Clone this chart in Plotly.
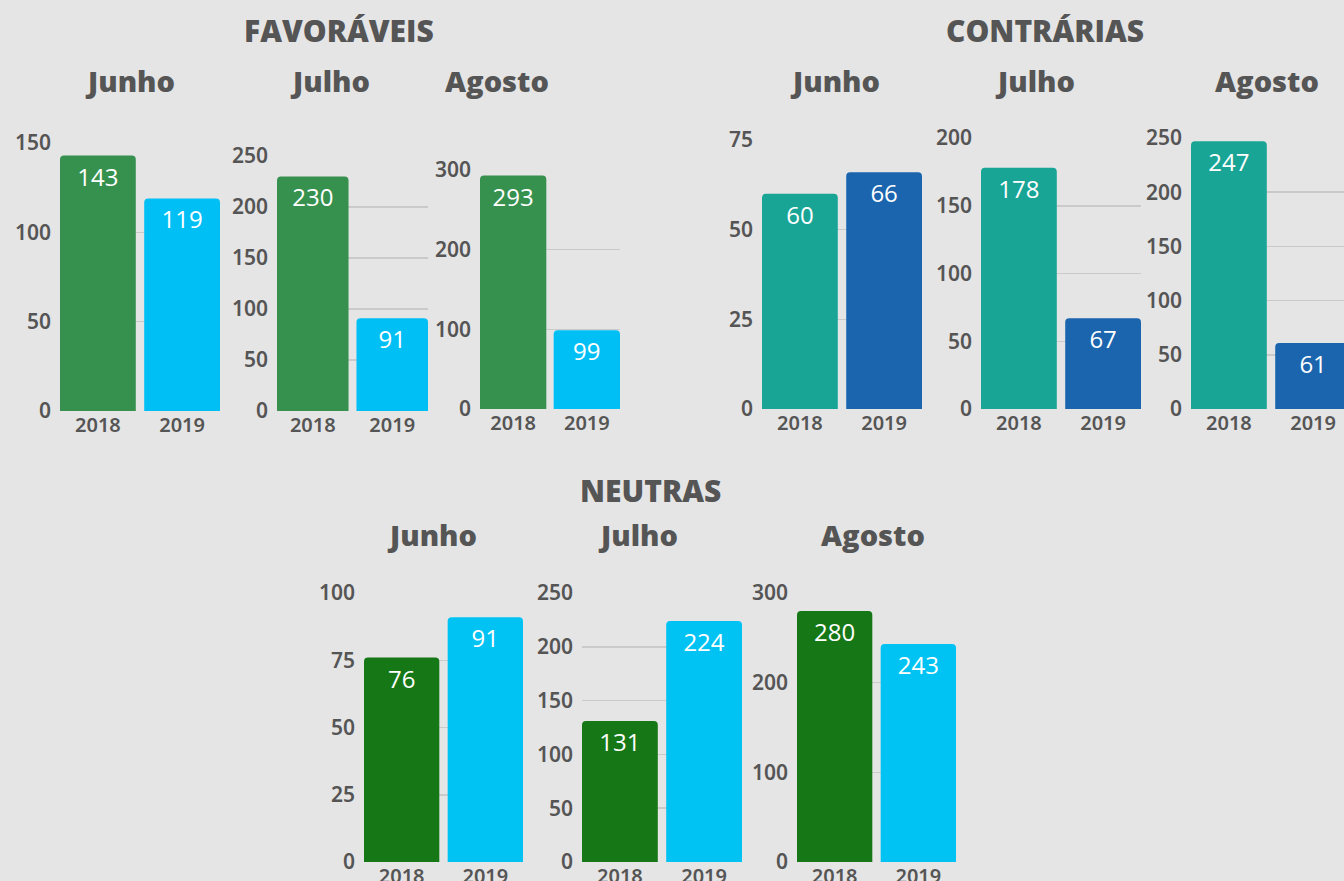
import plotly.graph_objects as go

groups = ["FAVORÁVEIS", "CONTRÁRIAS", "NEUTRAS"]
months = ["Junho", "Julho", "Agosto"]
years = ["2018", "2019"]

fav_2018 = [143, 230, 293]
fav_2019 = [119, 91, 99]
con_2018 = [60, 178, 247]
con_2019 = [66, 67, 61]
neu_2018 = [76, 131, 280]
neu_2019 = [91, 224, 243]

y_max = {"FAVORÁVEIS": [150, 250, 300], "CONTRÁRIAS": [75, 200, 250], "NEUTRAS": [100, 250, 300]}
y_step = {"FAVORÁVEIS": [50, 50, 100], "CONTRÁRIAS": [25, 50, 50], "NEUTRAS": [25, 50, 100]}

data = {
    "FAVORÁVEIS": (fav_2018, fav_2019),
    "CONTRÁRIAS": (con_2018, con_2019),
    "NEUTRAS": (neu_2018, neu_2019),
}
colors = {
    "FAVORÁVEIS": ("#36914F", "#00BFF5"),
    "CONTRÁRIAS": ("#19A596", "#1A65AE"),
    "NEUTRAS": ("#167716", "#00C3F4"),
}

W, H = 1344, 881
# panel boxes in pixels: x0, x1, ytop, ybottom
boxes = {
    "FAVORÁVEIS": [(60, 220, 143, 411), (277, 428, 156, 411), (480, 620, 170, 409)],
    "CONTRÁRIAS": [(762, 922, 140, 409), (981, 1141, 138, 409), (1191, 1351, 138, 409)],
    "NEUTRAS": [(364, 523, 593, 862), (582, 742, 593, 862), (797, 956, 593, 862)],
}
title_pos = {"FAVORÁVEIS": (339, 31), "CONTRÁRIAS": (1045, 31), "NEUTRAS": (650, 491)}
month_pos = {
    "FAVORÁVEIS": [(130, 80), (330, 80), (497, 80)],
    "CONTRÁRIAS": [(835, 80), (1035, 80), (1267, 80)],
    "NEUTRAS": [(432, 534), (638, 534), (873, 534)],
}


def px(x):
    return x / W


def py(y):
    return 1 - y / H


TXT = "#555555"
GRID = "#CACACA"
BG = "#E5E5E5"
TICKFONT = dict(family="Noto Sans", size=21, color=TXT, weight=600)
XTICKFONT = dict(family="Noto Sans", size=20, color=TXT, weight=600)

fig = go.Figure()
layout = dict(
    width=W, height=H, margin=dict(l=0, r=0, t=0, b=0, autoexpand=False),
    paper_bgcolor=BG, plot_bgcolor=BG, showlegend=False,
    annotations=[],
)

bw = 0.9
idx = 0
for g in groups:
    a18, a19 = data[g]
    c18, c19 = colors[g]
    for m in range(3):
        idx += 1
        xa = "x" if idx == 1 else f"x{idx}"
        ya = "y" if idx == 1 else f"y{idx}"
        x0, x1, yt, yb = boxes[g][m]
        vals = [a18[m], a19[m]]
        fig.add_trace(go.Bar(
            x=years, y=vals, xaxis=xa, yaxis=ya, width=bw,
            marker=dict(color=[c18, c19], cornerradius=4, line=dict(width=0)),
            text=[str(v) for v in vals], textposition="inside",
            insidetextanchor="end", textangle=0,
            textfont=dict(family="Open Sans", size=24, color="white", weight=500),
            hoverinfo="skip",
        ))
        px_per = (x1 - x0) / (1 + bw)
        xr0 = -bw / 2
        xr1 = 1 + bw / 2
        if x1 > W:
            x1 = W
            xr1 = xr0 + (x1 - x0) / px_per
        xkey = "xaxis" if idx == 1 else f"xaxis{idx}"
        ykey = "yaxis" if idx == 1 else f"yaxis{idx}"
        layout[xkey] = dict(
            domain=[px(x0), px(x1)], anchor=ya, type="category",
            range=[xr0, xr1], showgrid=False, zeroline=False, showline=False,
            tickfont=XTICKFONT, automargin=False,
            ticks="", ticklabelstandoff=0, fixedrange=True,
        )
        layout[ykey] = dict(
            domain=[py(yb), py(yt)], anchor=xa, automargin=False,
            range=[0, y_max[g][m]], dtick=y_step[g][m], tick0=0,
            showgrid=True, gridcolor=GRID, gridwidth=1.5, zeroline=False,
            showline=False, ticks="", tickfont=TICKFONT, ticklabelstandoff=8,
            fixedrange=True,
        )
        mx, my = month_pos[g][m]
        layout["annotations"].append(dict(
            x=px(mx), y=py(my), xref="paper", yref="paper",
            text=months[m], showarrow=False, xanchor="center", yanchor="middle",
            font=dict(family="Open Sans", size=29, color=TXT, weight=800),
        ))
    tx, ty = title_pos[g]
    layout["annotations"].append(dict(
        x=px(tx), y=py(ty), xref="paper", yref="paper",
        text=g, showarrow=False, xanchor="center", yanchor="middle",
        font=dict(family="Open Sans", size=30, color=TXT, weight=800),
    ))

fig.update_layout(**layout)
fig.write_html(
    "out.html",
    config={"displayModeBar": False, "staticPlot": True},
    post_script="document.body.style.margin='0';document.body.style.background='#E5E5E5';document.body.style.overflow='hidden';",
)
